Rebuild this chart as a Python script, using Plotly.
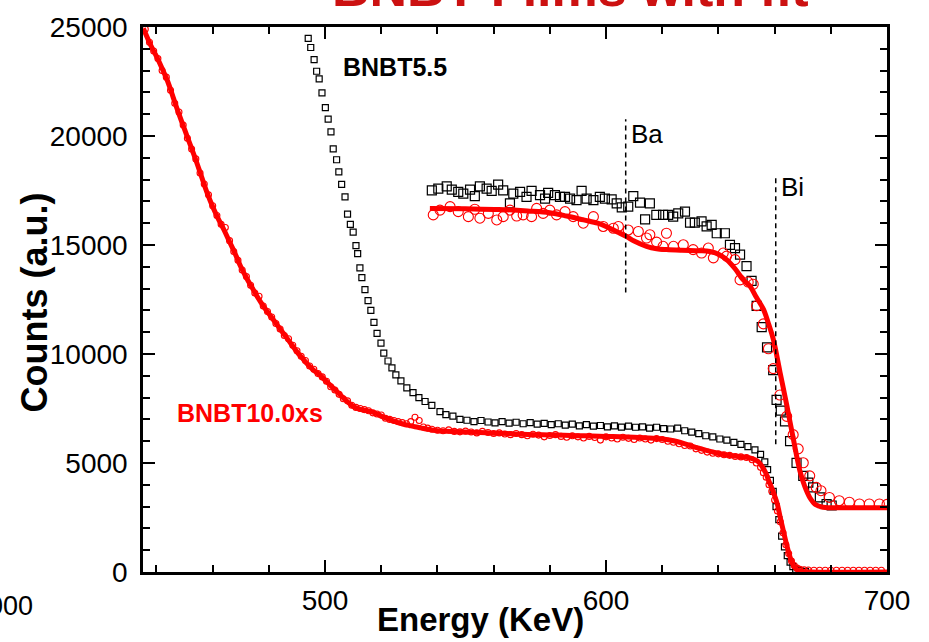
import plotly.graph_objects as go

# ---------------- data ----------------
# lower spectrum, BNBT10.0xs (red circles)
low_red_E = [436, 437.5, 439, 440.5, 442, 443.5, 445, 446.5, 448, 449.5, 451, 452.5, 454, 455.5, 457, 458.5,
             460, 461.5, 463, 464.5, 466, 467.5, 469, 470.5, 472, 473.5, 475, 476.5, 478, 479.5, 481, 482.5,
             484, 485.5, 487, 488.5, 490, 491.5, 493, 494.5, 496, 497.5, 499, 500.5, 502, 503.5, 505, 506.5,
             508, 509.5, 511, 512.5, 514, 515.5, 517, 518.5, 520, 521.5, 523, 524.5, 526, 527.5, 529, 530.5,
             532, 533.5, 535, 536.5, 538, 540, 542, 544, 546, 548, 550, 552, 554, 556, 558, 560, 562, 564,
             566, 568, 570, 572, 574, 576, 578, 580, 582, 584, 586, 588, 590, 592, 594, 596, 598, 600, 602,
             604, 606, 608, 610, 612, 614, 616, 618, 620, 622, 624, 626, 628, 630, 632, 634, 636, 638, 640,
             642, 644, 646, 648, 650, 652, 653.5, 655, 656, 657, 658, 659, 660, 661, 662, 663, 664, 665, 666,
             667, 668, 669, 670.5, 672, 674, 676, 678, 680, 682, 684, 686, 688, 690, 692, 694, 696, 698, 700]
low_red_Y = [24900, 24300, 23900, 23550, 23000, 22700, 22100, 21500, 21100, 20500, 19900, 19400, 18950, 18300,
             17800, 17300, 16800, 16350, 15950, 15800, 15200, 14700, 14300, 13850, 13550, 13150, 12800, 12650,
             12200, 11950, 11700, 11400, 11150, 10850, 10700, 10400, 10150, 9900, 9700, 9450, 9300, 9100, 8950,
             8750, 8500, 8350, 8150, 7950, 7850, 7650, 7550, 7500, 7450, 7400, 7300, 7250, 7200, 7050, 7000,
             6950, 6900, 6850, 6800, 6900, 7100, 6950, 6650, 6600, 6550, 6500, 6480, 6520, 6450, 6430, 6460,
             6420, 6380, 6450, 6400, 6350, 6380, 6330, 6300, 6350, 6300, 6250, 6320, 6280, 6200, 6260, 6300,
             6220, 6180, 6250, 6200, 6150, 6220, 6170, 6050, 6200, 6150, 6100, 6180, 6130, 6080, 6150, 6100,
             6050, 6120, 6080, 6000, 5950, 5880, 5800, 5780, 5650, 5580, 5500, 5450, 5420, 5380, 5350, 5300,
             5280, 5250, 5150, 5000, 4800, 4550, 4350, 4000, 3700, 3300, 2800, 2300, 1800, 1250, 850, 500, 300,
             180, 120, 100, 90, 80, 80, 80, 80, 80, 80, 80, 80, 80, 80, 80, 80, 80]

# lower spectrum fit (red line)
low_fit_E = [435.3, 438, 440, 442, 444, 446, 448, 450, 452, 454, 456, 458, 460, 462, 464, 466, 468, 470, 472,
             474, 476, 478, 480, 482, 484, 486, 488, 490, 492, 494, 496, 498, 500, 502, 504, 506, 508, 510,
             512, 514, 516, 518, 520, 522, 524, 526, 528, 530, 532, 534, 536, 538, 540, 545, 550, 555, 560,
             565, 570, 575, 580, 585, 590, 595, 600, 605, 610, 615, 620, 624, 627, 630, 633, 636, 639, 642,
             645, 648, 650, 652, 654, 655.5, 657, 658, 659, 660, 661, 662, 663, 664, 665, 666, 667, 668, 670,
             673, 700]
low_fit_Y = [24940, 24150, 23650, 23100, 22500, 21750, 21000, 20300, 19600, 18900, 18150, 17400, 16750, 16200,
             15700, 15150, 14600, 14000, 13500, 13050, 12600, 12200, 11850, 11500, 11150, 10800, 10450, 10100,
             9800, 9500, 9250, 9050, 8800, 8550, 8300, 8050, 7800, 7600, 7480, 7420, 7370, 7280, 7150, 7050,
             6950, 6850, 6780, 6720, 6660, 6610, 6560, 6520, 6480, 6450, 6420, 6400, 6370, 6350, 6320, 6300,
             6290, 6270, 6250, 6240, 6220, 6200, 6180, 6150, 6100, 6020, 5920, 5800, 5680, 5570, 5470, 5390,
             5330, 5290, 5260, 5200, 5080, 4850, 4500, 4150, 3850, 3500, 3100, 2500, 1950, 1400, 900, 500, 250,
             100, 30, 0, 0]

# lower spectrum, BNBT5.5 (black squares)
low_blk_E = [494.0, 494.9, 496.1, 497.0, 497.9, 498.9, 500.1, 501.1, 502.1, 502.9, 504.1, 504.9, 505.9, 507.1,
             508.0, 509.0, 510.0, 511.0, 511.6, 512.4, 513.1, 514.2, 515.3, 516.3, 517.4, 518.5, 519.9, 520.9,
             522.4, 523.8, 525.2, 527.0, 529.1, 531.3, 533.4, 535.6, 538.0, 540.9, 543.0, 545.5, 548.0, 550.5,
             553.0, 555.5, 558.0, 560.5, 563.0, 565.5, 568.0, 570.5, 573.0, 575.5, 578.0, 580.5, 583.0, 585.5,
             588.0, 590.5, 593.0, 595.5, 598.0, 600.5, 603.0, 605.5, 608.0, 610.5, 613.0, 615.5, 618.0, 620.5,
             623.0, 625.5, 628.0, 630.5, 633.0, 635.5, 638.0, 640.5, 643.0, 645.5, 648.0, 650.5, 653.0, 655.0,
             656.5, 657.5, 658.5, 659.5, 660.5, 661.5, 662.5, 663.5, 664.5, 665.5, 666.5, 667.5, 669.0, 671.0]
low_blk_Y = [24480, 24060, 23500, 22970, 22620, 21980, 21300, 20770, 20190, 19410, 18910, 18350, 17780, 17210,
             16420, 15950, 15590, 14970, 14600, 13950, 13500, 12950, 12450, 12000, 11450, 10950, 10500, 10040,
             9680, 9360, 9040, 8770, 8450, 8230, 8000, 7820, 7640, 7360, 7220, 7150, 7000, 6960, 6900, 6950,
             6880, 6840, 6900, 6830, 6870, 6800, 6850, 6780, 6820, 6760, 6800, 6740, 6780, 6700, 6760, 6690,
             6720, 6660, 6700, 6650, 6690, 6640, 6660, 6600, 6640, 6580, 6560, 6600, 6480, 6420, 6350, 6250,
             6200, 6100, 6050, 5950, 5850, 5750, 5600, 5400, 5050, 4700, 4200, 3700, 3000, 2400, 1650, 1150,
             750, 450, 250, 120, 60, 30]

# upper (offset) spectrum, BNBT5.5 (black squares)
up_blk_E = [538.0, 540.3, 543.3, 545.1, 547.4, 549.2, 551.6, 553.3, 555.1, 557.5, 559.3, 561.6, 563.4, 565.8,
            567.0, 569.4, 571.7, 573.5, 576.5, 578.3, 579.4, 581.8, 583.6, 585.4, 587.2, 589.5, 591.3, 593.1,
            595.5, 597.8, 599.6, 602.0, 603.8, 605.6, 607.9, 609.7, 612.1, 613.9, 615.6, 617.9, 620.3, 622.1,
            623.9, 625.7, 628.1, 629.9, 631.6, 634.0, 635.8, 637.6, 639.4, 642.3, 644.1, 645.9, 647.7, 650.0,
            651.8, 653.6, 655.4, 657.3, 659.5, 660.7, 662.2, 663.7, 665.5, 667.8, 670.2, 672.0, 673.7, 676.1,
            678.5, 680.3]
up_blk_Y = [17510, 17590, 17690, 17540, 17440, 17360, 17540, 17240, 17690, 17590, 17480, 17770, 17510, 16910,
            17360, 17440, 17210, 17480, 17290, 17130, 17390, 17290, 17210, 17210, 17130, 17060, 17480, 17130,
            17060, 17210, 17130, 17090, 16910, 16730, 16760, 17240, 16940, 16180, 16910, 16380, 16380, 16380,
            16300, 16450, 16530, 16030, 16030, 16080, 15850, 15920, 15540, 15540, 15010, 14860, 14560, 14030,
            13350, 12210, 11230, 10300, 9260, 7900, 7400, 6910, 6000, 5010, 4410, 4100, 3880, 3420, 3120, 3050]

# upper (offset) spectrum, BNBT10.0xs (red circles)
up_red_E = [538.5, 540.9, 544.5, 547.4, 551.0, 553.3, 555.1, 558.1, 561.1, 563.4, 565.8, 568.2, 570.5, 573.5,
            575.3, 577.6, 580.0, 582.4, 585.4, 588.3, 591.9, 595.5, 599.0, 602.6, 604.4, 607.9, 611.5, 614.4,
            615.6, 618.0, 620.3, 621.5, 624.0, 627.5, 631.0, 634.0, 636.4, 638.2, 641.7, 642.9, 645.9, 647.7,
            650.6, 652.4, 653.6, 656.0, 657.8, 659.5, 661.9, 664.3, 666.6, 668.4, 670.2, 672.5, 674.8, 676.5,
            679.5, 683.0, 686.6, 690.2, 693.7, 697.3, 700.0]
up_red_Y = [16380, 16600, 16760, 16530, 16300, 16640, 16230, 16450, 16150, 16300, 16600, 16330, 16380, 16300,
            16680, 16450, 16600, 16380, 16530, 16300, 16000, 16300, 15850, 15770, 15850, 15690, 15620, 15320,
            15470, 15130, 14940, 15540, 14940, 15010, 14790, 14630, 14860, 14410, 14630, 14490, 14330, 13400,
            13300, 13200, 12210, 11380, 10240, 9330, 8120, 7140, 6300, 5650, 5010, 4410, 3880, 3730, 3420,
            3270, 3200, 3120, 3120, 3120, 3100]

# upper (offset) spectrum fit (red line)
up_fit_E = [537.3, 550, 562, 572, 580, 586, 592, 597, 600, 604, 607.3, 610, 614.4, 618, 621.5, 627, 633.4, 637,
            640, 642.9, 646, 648.7, 651.2, 653.5, 656, 657.8, 659.5, 661.9, 664.3, 666.6, 669, 670.8, 672.5,
            674.5, 677.2, 680, 690, 700]
up_fit_Y = [16680, 16660, 16630, 16560, 16480, 16330, 16150, 16000, 15850, 15600, 15390, 15180, 14940, 14830,
            14790, 14760, 14740, 14700, 14580, 14330, 13900, 13420, 13120, 12600, 12060, 11400, 10690, 9180,
            7670, 6150, 4640, 3900, 3420, 3100, 2970, 2950, 2950, 2950]

# edge markers (dashed lines): label, energy, y-extent
edge_labels = ["Ba", "Bi"]
edge_E = [607.0, 660.4]
edge_Ylo = [12820, 5860]
edge_Yhi = [20770, 18180]

x_tickvals = [500, 600, 700]
x_ticktext = ["500", "600", "700"]
y_tickvals = [0, 5000, 10000, 15000, 20000, 25000]
y_ticktext = ["0", "5000", "10000", "15000", "20000", "25000"]

# ---------------- figure ----------------
RED = "#ff0000"
FONT = "Liberation Sans, Arial, sans-serif"

fig = go.Figure()

sq_marker = lambda s: dict(symbol="square-open", size=s, color="black", line=dict(width=1.2, color="black"))
ci_marker = lambda s: dict(symbol="circle-open", size=s, color=RED, line=dict(width=1.1, color=RED))

fig.add_trace(go.Scatter(x=low_blk_E, y=low_blk_Y, mode="markers", marker=sq_marker(6), showlegend=False))
fig.add_trace(go.Scatter(x=up_blk_E, y=up_blk_Y, mode="markers", marker=sq_marker(9), showlegend=False))
fig.add_trace(go.Scatter(x=low_red_E, y=low_red_Y, mode="markers", marker=ci_marker(6), showlegend=False))
fig.add_trace(go.Scatter(x=up_red_E, y=up_red_Y, mode="markers", marker=ci_marker(10), showlegend=False))
fig.add_trace(go.Scatter(x=low_fit_E, y=low_fit_Y, mode="lines", line=dict(color=RED, width=5, shape="spline"),
                         showlegend=False))
fig.add_trace(go.Scatter(x=up_fit_E, y=up_fit_Y, mode="lines", line=dict(color=RED, width=5, shape="spline"),
                         showlegend=False))

label_shift = [2, 6]
for lab, e, lo, hi, ys in zip(edge_labels, edge_E, edge_Ylo, edge_Yhi, label_shift):
    fig.add_trace(go.Scatter(x=[e, e], y=[lo, hi], mode="lines",
                             line=dict(color="black", width=1.5, dash="5px,4px"), showlegend=False))
    fig.add_annotation(x=e, y=hi, xref="x", yref="y", text=lab, showarrow=False,
                       xanchor="left", yanchor="top", xshift=3, yshift=ys,
                       font=dict(family=FONT, size=26, color="black"))

fig.add_annotation(x=505.5, y=23170, xref="x", yref="y", text="<b>BNBT5.5</b>", showarrow=False,
                   xanchor="left", yanchor="middle", font=dict(family=FONT, size=25, color="black"))
fig.add_annotation(x=446.5, y=7300, xref="x", yref="y", text="<b>BNBT10.0xs</b>", showarrow=False,
                   xanchor="left", yanchor="middle", font=dict(family=FONT, size=25, color=RED))

# axis titles as annotations
fig.add_annotation(x=(480 - 143) / 744, y=(572 - 620) / 550, xref="paper", yref="paper",
                   text="<b>Energy (KeV)</b>", showarrow=False, xanchor="center", yanchor="middle",
                   font=dict(family=FONT, size=33, color="black"))
fig.add_annotation(x=(34 - 143) / 744, y=(572 - 300) / 550, xref="paper", yref="paper",
                   text="<b>Counts (a.u.)</b>", showarrow=False, textangle=-90, xanchor="center",
                   yanchor="middle", font=dict(family=FONT, size=36, color="black"))
# cut-off title (only its lower edge is inside the page, as in the reference)
fig.add_annotation(x=(570 - 143) / 744, y=(572 - 14) / 550, xref="paper", yref="paper",
                   text="<b>BNBT Films with fit</b>", showarrow=False, xanchor="center", yanchor="bottom",
                   font=dict(family=FONT, size=52, color="#cc1111"))
# stray cut-off label at bottom-left
fig.add_annotation(x=(35 - 143) / 744, y=(572 - 606) / 550, xref="paper", yref="paper",
                   text="000", showarrow=False, xanchor="right", yanchor="middle",
                   font=dict(family=FONT, size=27, color="black"))

axis_common = dict(showline=True, linecolor="black", linewidth=2.5, mirror="ticks", ticks="inside",
                   tickcolor="black", tickwidth=2, ticklen=12, showgrid=False, zeroline=False,
                   tickfont=dict(family=FONT, size=28, color="black"))

fig.update_xaxes(range=[435.2, 700], tickvals=x_tickvals, ticktext=x_ticktext,
                 minor=dict(dtick=20, tick0=0, ticks="inside", ticklen=7, tickwidth=2, tickcolor="black",
                            showgrid=False),
                 ticklabelstandoff=2, **axis_common)
fig.update_yaxes(range=[0, 25000], tickvals=y_tickvals, ticktext=y_ticktext,
                 minor=dict(dtick=1000, tick0=0, ticks="inside", ticklen=7, tickwidth=2, tickcolor="black",
                            showgrid=False),
                 ticklabelstandoff=7, **axis_common)

fig.update_layout(width=929, height=642, margin=dict(l=143, r=42, t=22, b=70),
                  plot_bgcolor="white", paper_bgcolor="white", showlegend=False)

fig.write_html("out.html")
